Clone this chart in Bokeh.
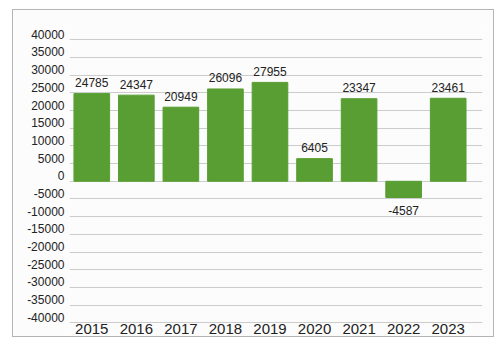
from bokeh.plotting import figure
from bokeh.models import ColumnDataSource, Range1d, FixedTicker, LinearAxis, Grid
from bokeh.core.properties import value
from bokeh.embed import file_html
from bokeh.resources import INLINE

# Yearly balance
years = ["2015", "2016", "2017", "2018", "2019", "2020", "2021", "2022", "2023"]
amounts = [24785, 24347, 20949, 26096, 27955, 6405, 23347, -4587, 23461]
y_ticks = list(range(-40000, 40001, 5000))

BAR_COLOR = "#589e32"
PANEL_BG = "#fcfcfc"
FONT = "Liberation Sans"
# tick labels sit just above their grid line
LABEL_LIFT = 1550

idx = list(range(len(years)))
src = ColumnDataSource(dict(
    x=idx,
    top=amounts,
    label=[str(v) for v in amounts],
    yoff=[-11 if v >= 0 else 13 for v in amounts],
))

p = figure(
    width=482, height=328,
    output_backend="svg", toolbar_location=None,
    x_range=Range1d(-0.5, 8.77),
    y_range=Range1d(-44440, 45450),
    min_border_left=56, min_border_right=13,
    min_border_top=10, min_border_bottom=0,
    x_axis_location=None, y_axis_location=None,
    background_fill_color=PANEL_BG,
    border_fill_color=PANEL_BG,
    outline_line_color=None,
)
# grey frame around the whole chart panel
p.styles = {"border": "1px solid #b4b4b4", "margin-left": "12px", "margin-top": "9px"}

# only horizontal grid lines, one per value tick
p.center = [r for r in p.center if not isinstance(r, Grid)]
p.add_layout(Grid(dimension=1, ticker=FixedTicker(ticks=y_ticks),
                  grid_line_color="#cccccc", grid_line_width=1))

label_pos = [t + LABEL_LIFT for t in y_ticks]
ax = LinearAxis(
    ticker=FixedTicker(ticks=label_pos),
    major_label_overrides={pos: str(t) for pos, t in zip(label_pos, y_ticks)},
    axis_line_color=None, major_tick_line_color=None, minor_tick_line_color=None,
    major_tick_out=0, major_label_standoff=5,
    major_label_text_font=FONT, major_label_text_font_size="12px",
    major_label_text_color="#222222",
)
p.add_layout(ax, "left")

p.vbar(x="x", top="top", bottom=0, width=0.8, source=src,
       fill_color=BAR_COLOR, line_color=BAR_COLOR)

# value labels
p.text(x="x", y="top", text="label", y_offset="yoff", source=src,
       text_align="center", text_baseline="alphabetic",
       text_font=value(FONT), text_font_size="12px", text_color="#222222")

# year labels below the bottom grid line
p.text(x=idx, y=[-40000] * len(years), text=years, y_offset=6,
       text_align="center", text_baseline="alphabetic",
       text_font=value(FONT), text_font_size="15px", text_color="#222222")

open("out.html", "w").write(file_html(p, INLINE))
